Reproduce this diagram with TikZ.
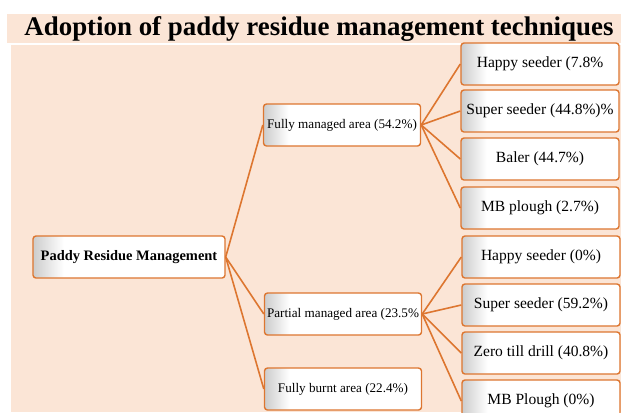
\documentclass[tikz,border=0pt]{standalone}
\usepackage{fontspec}
\setmainfont{Liberation Serif}
\usetikzlibrary{positioning}
\definecolor{PanelPeach}{HTML}{FBE5D6}
\definecolor{TreeOrange}{HTML}{DD7630}
\pgfdeclarehorizontalshading{bevel}{100bp}{color(0bp)=(black!20); color(25bp)=(black!20); color(33bp)=(white); color(100bp)=(white)}
\tikzset{
  every node/.style={text=black},
  box/.style={draw=TreeOrange, line width=1.4pt, rounded corners=3pt, shading=bevel, minimum height=42bp, inner sep=2pt},
  root/.style={box, minimum width=192bp, font=\fontsize{14.5}{16}\selectfont\bfseries},
  area/.style={box, minimum width=157bp, font=\fontsize{13.2}{15}\selectfont},
  leaf/.style={box, minimum width=158bp, font=\fontsize{15.6}{18}\selectfont},
  branch/.style={draw=TreeOrange, line width=1.6pt},
}
\begin{document}
\begin{tikzpicture}[x=1bp,y=-1bp]
  \useasboundingbox (0,0) rectangle (621,412);
  % title band and panel
  \fill[PanelPeach] (7,14) rectangle (621,43);
  \fill[PanelPeach] (11,45) rectangle (621,412);
  \node[font=\fontsize{27}{30}\selectfont\bfseries] (title) at (319,29) {Adoption of paddy residue management techniques};
  % tree
  \node[root] (paddy) at (129,257) {Paddy Residue Management};
  \node[area] (full) at (342,125) {Fully managed area (54.2\%)};
  \node[area] (partial) at (343,314) {Partial managed area (23.5\%};
  \node[area] (burnt) at (343,389) {Fully burnt area (22.4\%)};
  \foreach \n/\y/\t in {h1/64/Happy seeder (7.8\%, s1/111/Super seeder (44.8\%)\%,
      b1/159/Baler (44.7\%), m1/208/MB plough (2.7\%)}{
    \node[leaf] (\n) at (540,\y) {\t};
  }
  \foreach \n/\y/\t in {h2/257/Happy seeder (0\%), s2/305/Super seeder (59.2\%),
      z2/353/Zero till drill (40.8\%), m2/401/MB Plough (0\%)}{
    \node[leaf] (\n) at (541,\y) {\t};
  }
  \foreach \n in {full,partial,burnt}
    \draw[branch] (paddy.east) -- (\n.west);
  \foreach \n in {h1,s1,b1,m1}
    \draw[branch] (full.east) -- (\n.west);
  \foreach \n in {h2,s2,z2,m2}
    \draw[branch] (partial.east) -- (\n.west);
\end{tikzpicture}
\end{document}
